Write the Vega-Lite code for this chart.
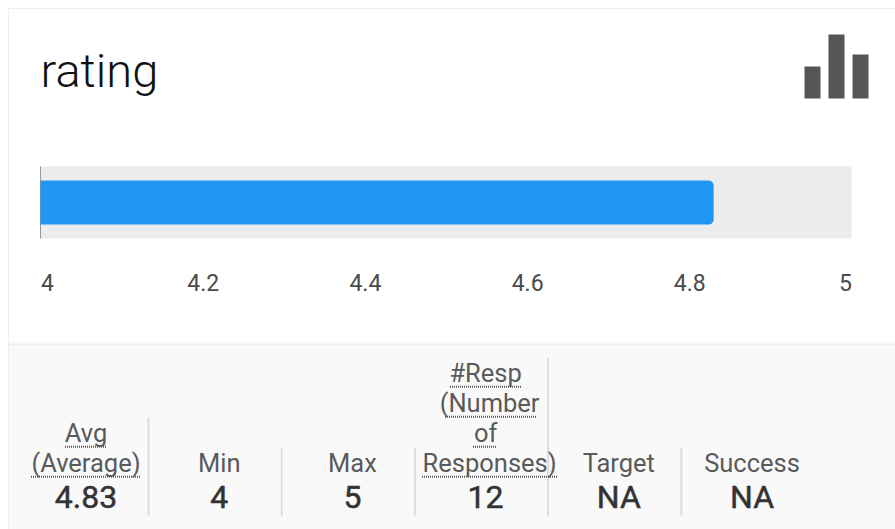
{
"$schema":"https://vega.github.io/schema/vega-lite/v6.json",
"padding":{"left":7,"top":7,"right":0,"bottom":0},
"background":"white",
"spacing":0,
"config":{"concat":{"spacing":0},"font":"Roboto","axis":{"labelFont":"Roboto"}},
"datasets":{
"summary":[{"measure":"rating","low":4,"high":5,"avg":4.83,"level":1}],
"icon":[{"k":"a","h":32},{"k":"b","h":64},{"k":"c","h":44}],
"labels":[
{"stat":"Avg","row":2,"text":"Avg"},{"stat":"Avg","row":1,"text":"(Average)"},
{"stat":"Min","row":1,"text":"Min"},{"stat":"Max","row":1,"text":"Max"},
{"stat":"#Resp","row":4,"text":"#Resp"},{"stat":"#Resp","row":2,"text":"of"},
{"stat":"Target","row":1,"text":"Target"},{"stat":"Success","row":1,"text":"Success"}],
"labelsShifted":[{"stat":"#Resp","row":3,"text":"(Number"},{"stat":"#Resp","row":1,"text":"Responses)"}],
"values":[{"stat":"Avg","row":0,"text":"4.83"},{"stat":"Min","row":0,"text":"4"},{"stat":"Max","row":0,"text":"5"},{"stat":"#Resp","row":0,"text":"12"},{"stat":"Target","row":0,"text":"NA"},{"stat":"Success","row":0,"text":"NA"}],
"dividers":[{"stat":"Avg","row":2},{"stat":"Min","row":1},{"stat":"Max","row":1},{"stat":"#Resp","row":4},{"stat":"Target","row":1}]
},
"vconcat":[
{"width":888,"height":334.5,"view":{"stroke":"#eeeeee","fill":"white"},
"resolve":{"scale":{"x":"independent","y":"independent"},"axis":{"x":"independent","y":"independent"}},
"layer":[
{"data":{"name":"summary"},"mark":{"type":"bar","color":"#ececec"},
"encoding":{"x":{"field":"low","type":"quantitative","scale":{"domain":[4,5],"range":[32.5,843.5],"zero":false,"nice":false},
"axis":{"orient":"bottom","offset":-70.5,"values":[4,4.2,4.4,4.6,4.8,5],"format":"~g","labelFlush":true,"labelPadding":0,"domain":false,"ticks":false,"grid":false,"title":null,"labelFontSize":23,"labelFontWeight":400,"labelColor":"#4a4a4a"}},
"x2":{"field":"high"},
"y":{"field":"measure","type":"nominal","scale":{"type":"band","domain":["rating"],"range":[158.5,230.5],"paddingInner":0,"paddingOuter":0},"axis":null}}},
{"data":{"name":"summary"},"mark":{"type":"rule","color":"#999999","strokeWidth":1},
"encoding":{"x":{"field":"low","type":"quantitative","scale":{"domain":[4,5],"range":[32.5,843.5],"zero":false,"nice":false},"axis":null},
"y":{"datum":0,"type":"quantitative","scale":{"domain":[0,1],"range":[230.5,158.5]},"axis":null},"y2":{"datum":1}}},
{"data":{"name":"summary"},"mark":{"type":"bar","color":"#2196f3","size":44,"cornerRadiusTopRight":5,"cornerRadiusBottomRight":5},
"encoding":{"x":{"field":"low","type":"quantitative","scale":{"domain":[4,5],"range":[32.5,843.5],"zero":false,"nice":false},"axis":null},
"x2":{"field":"avg"},
"y":{"field":"measure","type":"nominal","scale":{"type":"band","domain":["rating"],"range":[158.5,230.5],"paddingInner":0,"paddingOuter":0},"axis":null}}},
{"data":{"name":"summary"},"mark":{"type":"text","align":"left","baseline":"alphabetic","font":"Roboto","fontSize":47,"fontWeight":300,"color":"#111111"},
"encoding":{"x":{"field":"low","type":"quantitative","scale":{"domain":[4,5],"range":[32.5,843.5],"zero":false,"nice":false},"axis":null},
"y":{"field":"level","type":"quantitative","scale":{"domain":[0,1],"range":[179,79]},"axis":null},
"text":{"field":"measure"}}},
{"data":{"name":"icon"},"mark":{"type":"bar","color":"#555555"},
"encoding":{"x":{"field":"k","type":"nominal","scale":{"type":"band","domain":["a","b","c"],"range":[796.5,860.5],"paddingInner":0.3333,"paddingOuter":0},"axis":null},
"y":{"field":"h","type":"quantitative","scale":{"domain":[0,64],"range":[90.5,26.5]},"axis":null}}}
]},
{"width":888,"height":188,"view":{"stroke":"#eeeeee","fill":"#f9f9f9"},
"encoding":{"x":{"field":"stat","type":"nominal","scale":{"type":"point","padding":0,"domain":["Avg","Min","Max","#Resp","Target","Success"],"range":[78,744]},"axis":null},
"y":{"field":"row","type":"quantitative","scale":{"domain":[0,4],"range":[157.7,37.7],"zero":false,"nice":false},"axis":null}},
"layer":[
{"data":{"name":"dividers"},"mark":{"type":"rule","color":"#dddddd","strokeWidth":2,"xOffset":62.5,"x2Offset":62.5,"yOffset":-24,"y2Offset":14},
"encoding":{"y2":{"datum":0}}},
{"data":{"values":[{"stat":"Avg","row":2}]},"mark":{"type":"rule","color":"#555555","strokeWidth":2,"strokeDash":[1,1],"xOffset":-21,"x2Offset":21,"yOffset":5,"y2Offset":5},"encoding":{"x2":{"field":"stat"}}},
{"data":{"values":[{"stat":"Avg","row":1}]},"mark":{"type":"rule","color":"#555555","strokeWidth":2,"strokeDash":[1,1],"xOffset":-55,"x2Offset":55,"yOffset":5,"y2Offset":5},"encoding":{"x2":{"field":"stat"}}},
{"data":{"values":[{"stat":"#Resp","row":4}]},"mark":{"type":"rule","color":"#555555","strokeWidth":2,"strokeDash":[1,1],"xOffset":-35.6,"x2Offset":36.4,"yOffset":5,"y2Offset":5},"encoding":{"x2":{"field":"stat"}}},
{"data":{"values":[{"stat":"#Resp","row":3}]},"mark":{"type":"rule","color":"#555555","strokeWidth":2,"strokeDash":[1,1],"xOffset":-40.6,"x2Offset":51.4,"yOffset":5,"y2Offset":5},"encoding":{"x2":{"field":"stat"}}},
{"data":{"values":[{"stat":"#Resp","row":2}]},"mark":{"type":"rule","color":"#555555","strokeWidth":2,"strokeDash":[1,1],"xOffset":-12.6,"x2Offset":11.4,"yOffset":5,"y2Offset":5},"encoding":{"x2":{"field":"stat"}}},
{"data":{"values":[{"stat":"#Resp","row":1}]},"mark":{"type":"rule","color":"#555555","strokeWidth":2,"strokeDash":[1,1],"xOffset":-63.6,"x2Offset":72.4,"yOffset":5,"y2Offset":5},"encoding":{"x2":{"field":"stat"}}},
{"data":{"name":"labels"},"mark":{"type":"text","baseline":"alphabetic","font":"Roboto","fontSize":25.5,"fontWeight":400,"color":"#5a5a5a"},"encoding":{"text":{"field":"text"}}},
{"data":{"name":"labelsShifted"},"mark":{"type":"text","baseline":"alphabetic","dx":4,"font":"Roboto","fontSize":25.5,"fontWeight":400,"color":"#5a5a5a"},"encoding":{"text":{"field":"text"}}},
{"data":{"name":"values"},"mark":{"type":"text","baseline":"alphabetic","dy":6,"font":"Roboto","fontSize":32,"fontWeight":400,"color":"#333333","stroke":"#333333","strokeWidth":0.5},"encoding":{"text":{"field":"text"}}}
]}
]}
